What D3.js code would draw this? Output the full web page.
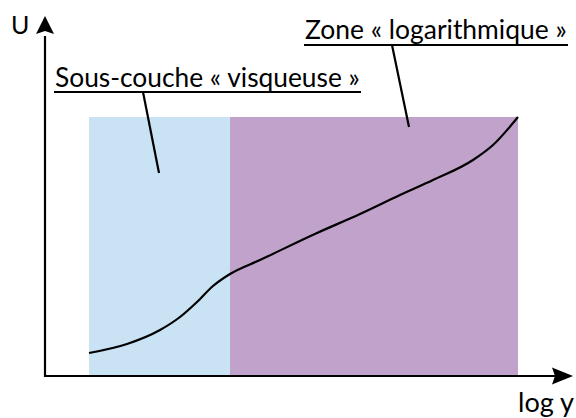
<!DOCTYPE html>
<html>
<head>
<meta charset="utf-8">
<script src="https://cdn.jsdelivr.net/npm/d3@7"></script>
<style>
  html, body { margin: 0; padding: 0; background: #fff; }
  svg { display: block; }
  text { font-family: Lato, "Open Sans", sans-serif; fill: #000; }
</style>
</head>
<body>
<div id="chart"></div>
<script>
// profil de vitesse U en fonction de log y
const logY = [44, 82, 115, 135, 152, 168, 185, 215, 272, 315, 355, 388, 428, 448, 473];
const vitesse = [23, 32, 46, 59, 74, 90, 102, 116, 143, 162, 181, 196, 216, 231, 259];

// zones
const zoneNames = ['visqueuse', 'logarithmique'];
const zoneStart = [44, 185];
const zoneEnd = [185, 473];
const zoneTop = 259;
const zoneColors = ['#c9e3f5', '#c0a2cb'];

// libellés
const labels = ['Sous-couche « visqueuse »', 'Zone « logarithmique »'];
const axisLabels = ['U', 'log y'];

const width = 576, height = 418;

const x = d3.scaleLinear().domain([0, 528]).range([45, 573]);
const y = d3.scaleLinear().domain([0, 360]).range([376, 16]);

const svg = d3.select('#chart').append('svg')
    .attr('width', width).attr('height', height);

// zones colorées
svg.append('g').selectAll('rect')
    .data(zoneNames)
    .join('rect')
    .attr('x', (d, i) => x(zoneStart[i]))
    .attr('y', y(zoneTop))
    .attr('width', (d, i) => x(zoneEnd[i]) - x(zoneStart[i]))
    .attr('height', y(0) - y(zoneTop))
    .attr('fill', (d, i) => zoneColors[i]);

// courbe
const line = d3.line()
    .x(d => x(d[0]))
    .y(d => y(d[1]))
    .curve(d3.curveMonotoneX);

svg.append('path')
    .datum(d3.zip(logY, vitesse))
    .attr('fill', 'none')
    .attr('stroke', '#000')
    .attr('stroke-width', 2.2)
    .attr('d', line);

// axes avec flèches
const ax = svg.append('g').attr('stroke', '#000').attr('stroke-width', 2.2);
ax.append('line').attr('x1', x(0)).attr('y1', y(0) + 1).attr('x2', x(0)).attr('y2', y(340));
ax.append('line').attr('x1', x(0) - 1).attr('y1', y(0)).attr('x2', x(510)).attr('y2', y(0));

svg.append('path')
    .attr('d', `M${x(0)},${y(360)} L${x(0) - 9},${y(342)} L${x(0)},${y(345)} L${x(0) + 9},${y(342)} Z`)
    .attr('fill', '#000');
svg.append('path')
    .attr('d', `M${x(528)},${y(0)} L${x(507)},${y(0) - 8.5} L${x(510)},${y(0)} L${x(507)},${y(0) + 8.5} Z`)
    .attr('fill', '#000');

// texte ajusté à une largeur donnée
const fitText = (str, x0, base, w, anchor) => {
    const t = svg.append('text')
        .attr('x', x0).attr('y', base)
        .attr('text-anchor', anchor || 'start')
        .attr('font-size', 24)
        .text(str);
    const len = t.node().getComputedTextLength();
    t.attr('font-size', 24 * w / len);
    return t;
};

svg.append('text').attr('x', 11).attr('y', 34)
    .attr('font-size', 25).text(axisLabels[0]);
fitText(axisLabels[1], 574, 412, 56, 'end');

// annotations
const notes = [
    {text: labels[0], x: 55, base: 87, right: 360, ul: 92, from: [143, 92], to: [159, 173]},
    {text: labels[1], x: 305, base: 39, right: 567, ul: 45, from: [392, 45], to: [409, 127]}
];

notes.forEach(n => {
    fitText(n.text, n.x, n.base, n.right - n.x);

    svg.append('line')
        .attr('x1', n.x - 1).attr('x2', n.right + 1)
        .attr('y1', n.ul).attr('y2', n.ul)
        .attr('stroke', '#000').attr('stroke-width', 2.2);
    svg.append('line')
        .attr('x1', n.from[0]).attr('y1', n.from[1])
        .attr('x2', n.to[0]).attr('y2', n.to[1])
        .attr('stroke', '#000').attr('stroke-width', 2.2);
});
</script>
</body>
</html>
